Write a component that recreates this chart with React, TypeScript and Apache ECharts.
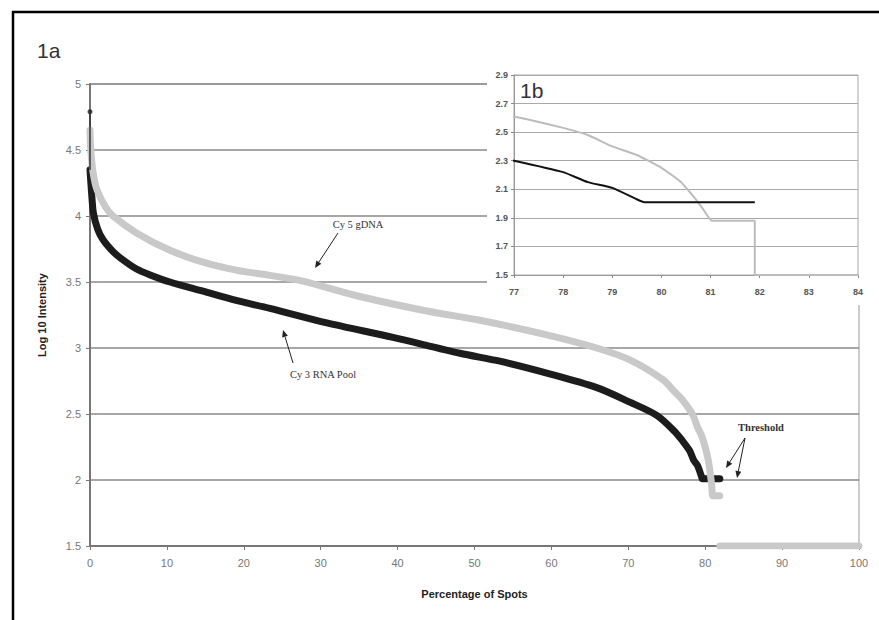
import React, { useEffect, useRef } from "react";
import * as echarts from "echarts";

// Cy 3 RNA Pool (black) : [percentage of spots, log10 intensity]
const cy3Data: any[] = [
  [0, 4.35], [0.2, 4.18], [0.45, 4.02], [1, 3.9], [1.7, 3.82], [3, 3.73], [4, 3.68],
  [6, 3.6], [8, 3.55], [10.4, 3.5], [14.7, 3.43], [19, 3.36], [23.4, 3.3], [30.8, 3.19],
  [39.4, 3.08], [48.1, 2.96], [53.3, 2.9], [59.4, 2.81], [65.9, 2.7], [70.2, 2.59],
  [73.7, 2.49], [76, 2.37], [77, 2.3], [78, 2.22], [78.5, 2.15], [79, 2.11], [79.5, 2.03],
  [79.65, 2.01], [81.9, 2.01],
];
const cy3TopPoint: any[] = [[0, 4.79]];

// Cy 5 gDNA (grey)
const cy5Data: any[] = [
  [0, 4.65], [0.1, 4.5], [0.4, 4.33], [0.9, 4.2], [2, 4.07], [3, 4.0], [6.1, 3.87],
  [10.4, 3.74], [14.7, 3.65], [19, 3.59], [23.4, 3.55], [27.4, 3.51], [35.1, 3.39],
  [43.8, 3.28], [50.7, 3.21], [59.4, 3.1], [65.9, 3.0], [70.2, 2.91], [74.5, 2.76],
  [76, 2.67], [77, 2.61], [78, 2.53], [78.5, 2.48], [79, 2.4], [79.5, 2.34], [80, 2.25],
  [80.4, 2.15], [80.7, 2.03], [80.85, 1.96], [81.03, 1.88], [81.9, 1.88], [81.9, "-"],
  [81.9, 1.5], [100, 1.5],
];

const insetYTicks = [1.5, 1.7, 1.9, 2.1, 2.3, 2.5, 2.7, 2.9];

function arrow(x1: number, y1: number, x2: number, y2: number) {
  const a = Math.atan2(y2 - y1, x2 - x1);
  const head = 7;
  const w = 3;
  const bx = x2 - head * Math.cos(a);
  const by = y2 - head * Math.sin(a);
  const px = -Math.sin(a) * w;
  const py = Math.cos(a) * w;
  return [
    { type: "line", z: 20, shape: { x1, y1, x2: bx, y2: by }, style: { stroke: "#222", lineWidth: 1 } },
    {
      type: "polygon", z: 20,
      shape: { points: [[x2, y2], [bx + px, by + py], [bx - px, by - py]] },
      style: { fill: "#222" },
    },
  ];
}

export default function App() {
  const ref = useRef<HTMLDivElement>(null);
  useEffect(() => {
    if (!ref.current) return;
    const chart = echarts.init(ref.current, undefined, { renderer: "svg" });
    const labelFont = "Arial, 'Liberation Sans', sans-serif";
    const serif = "'Liberation Serif', 'DejaVu Serif', serif";
    const option: any = {
      animation: false,
      backgroundColor: "#fff",
      grid: [
        { left: 90, top: 84, width: 769, height: 462, show: true, borderColor: "#999", borderWidth: 1, z: 0 },
        { left: 514, top: 75, width: 344, height: 200, show: true, borderColor: "#aaa", borderWidth: 1, z: 11 },
      ],
      xAxis: [
        {
          gridIndex: 0, type: "value", min: 0, max: 100, interval: 10,
          name: "Percentage of Spots", nameLocation: "middle", nameGap: 42,
          nameTextStyle: { fontFamily: labelFont, fontWeight: "bold", fontSize: 11, color: "#222" },
          axisLine: { show: true, lineStyle: { color: "#777", width: 2 } },
          axisTick: { show: true, length: 4, lineStyle: { color: "#777" } },
          axisLabel: { fontFamily: labelFont, fontSize: 11, color: "#777", margin: 11 },
          splitLine: { show: false },
        },
        {
          gridIndex: 1, type: "value", min: 77, max: 84, interval: 1, z: 12,
          axisLine: { show: true, lineStyle: { color: "#999", width: 1 } },
          axisTick: { show: true, length: 3, lineStyle: { color: "#888" } },
          axisLabel: { fontFamily: labelFont, fontSize: 9, fontWeight: "bold", color: "#555", margin: 12 },
          splitLine: { show: false },
        },
      ],
      yAxis: [
        {
          gridIndex: 0, type: "value", min: 1.5, max: 5, interval: 0.5,
          name: "Log 10 Intensity", nameLocation: "middle", nameGap: 43,
          nameTextStyle: { fontFamily: labelFont, fontWeight: "bold", fontSize: 11, color: "#222" },
          axisLine: { show: true, lineStyle: { color: "#777", width: 2 } },
          axisTick: { show: true, length: 4, lineStyle: { color: "#777" } },
          axisLabel: { fontFamily: labelFont, fontSize: 11, color: "#777", margin: 9 },
          splitLine: { show: true, lineStyle: { color: "#8a8a8a", width: 1.5 } },
        },
        {
          gridIndex: 1, type: "value", min: 1.5, max: 2.9, z: 12,
          axisLine: { show: true, lineStyle: { color: "#999", width: 1 } },
          axisTick: { show: true, length: 3, customValues: insetYTicks, lineStyle: { color: "#888" } },
          axisLabel: {
            customValues: insetYTicks, fontFamily: labelFont, fontSize: 9, fontWeight: "bold",
            color: "#555", margin: 6, formatter: (v: number) => v.toFixed(1),
          },
          splitLine: { show: true, lineStyle: { color: "#aaa", width: 1 } },
        },
      ],
      series: [
        {
          name: "Cy 3 RNA Pool", type: "line", xAxisIndex: 0, yAxisIndex: 0, data: cy3Data,
          showSymbol: false, smooth: 0.3,
          lineStyle: { color: "#1c1c1c", width: 7, cap: "round", join: "round" }, z: 2,
        },
        {
          name: "Cy 3 top", type: "scatter", xAxisIndex: 0, yAxisIndex: 0, data: cy3TopPoint,
          symbolSize: 5, itemStyle: { color: "#1c1c1c" }, z: 3,
        },
        {
          name: "Cy 5 gDNA", type: "line", xAxisIndex: 0, yAxisIndex: 0, data: cy5Data,
          showSymbol: false, connectNulls: false, smooth: 0.3,
          lineStyle: { color: "#c9c9c9", width: 7, cap: "round", join: "round" }, z: 3,
        },
        {
          name: "Cy 3 inset", type: "line", xAxisIndex: 1, yAxisIndex: 1, data: cy3Data,
          showSymbol: false, clip: true, smooth: 0.15,
          lineStyle: { color: "#111", width: 2 }, z: 14,
        },
        {
          name: "Cy 5 inset", type: "line", xAxisIndex: 1, yAxisIndex: 1, data: cy5Data,
          showSymbol: false, clip: true, connectNulls: true, smooth: 0.15,
          lineStyle: { color: "#bcbcbc", width: 2 }, z: 13,
        },
      ],
      graphic: {
        elements: [
          { type: "rect", z: 10, shape: { x: 487, y: 55, width: 392, height: 250 }, style: { fill: "#fff" } },
          {
            type: "polyline", z: 30, shape: { points: [[13, 620], [13, 12], [879, 12]] },
            style: { stroke: "#000", lineWidth: 2.5, fill: "none" },
          },
          { type: "line", z: 5, shape: { x1: 90, y1: 112, x2: 90, y2: 170 }, style: { stroke: "#333", lineWidth: 1.5 } },
          { type: "text", z: 20, x: 37, y: 40, style: { text: "1a", fontSize: 21, fontFamily: labelFont, fill: "#333" } },
          { type: "text", z: 20, x: 520, y: 80, style: { text: "1b", fontSize: 21, fontFamily: labelFont, fill: "#333" } },
          {
            type: "text", z: 20, x: 358, y: 224,
            style: { text: "Cy 5 gDNA", fontSize: 10.5, fontFamily: serif, fill: "#333", align: "center", verticalAlign: "middle" },
          },
          {
            type: "text", z: 20, x: 323, y: 374,
            style: { text: "Cy 3 RNA Pool", fontSize: 10.5, fontFamily: serif, fill: "#333", align: "center", verticalAlign: "middle" },
          },
          {
            type: "text", z: 20, x: 761, y: 427,
            style: { text: "Threshold", fontSize: 10.5, fontFamily: serif, fontWeight: "bold", fill: "#333", align: "center", verticalAlign: "middle" },
          },
          ...arrow(338, 233, 315, 268),
          ...arrow(293, 363, 283, 330),
          ...arrow(745, 438, 726, 468),
          ...arrow(745, 438, 737, 478),
        ],
      },
    };
    chart.setOption(option);
    return () => chart.dispose();
  }, []);
  return (
    <div
      ref={ref}
      style={{ position: "absolute", left: 0, top: 0, width: 879, height: 620 }}
    />
  );
}
